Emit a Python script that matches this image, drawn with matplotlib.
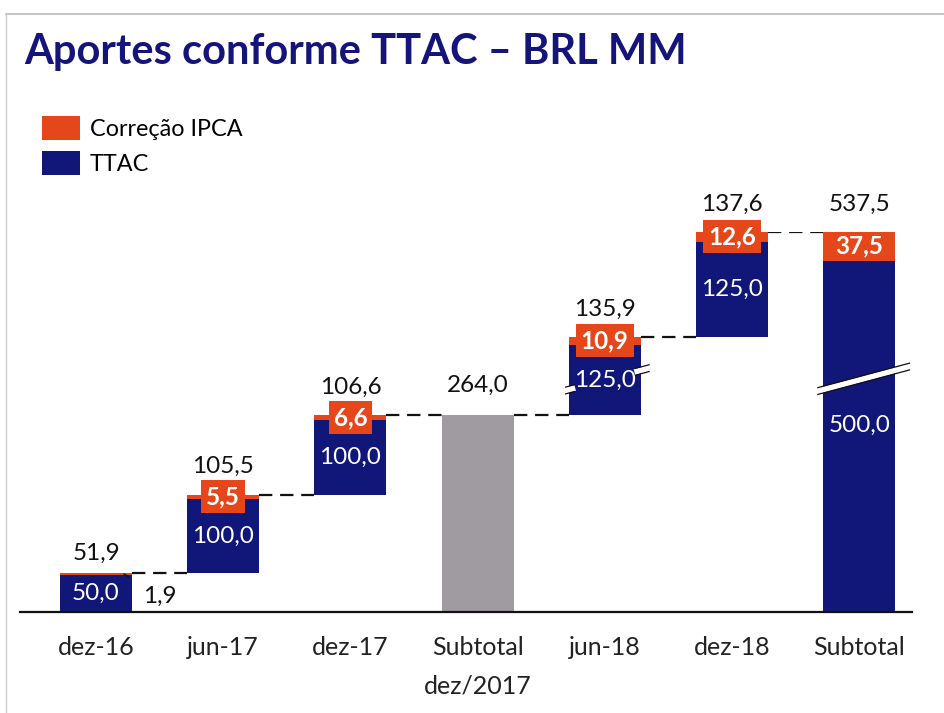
import numpy as np
import matplotlib
matplotlib.use("Agg")
import matplotlib.pyplot as plt
import matplotlib.transforms as mtransforms
from matplotlib.patches import Patch
from matplotlib.lines import Line2D

# ---------------- data ----------------
categories = ["dez-16", "jun-17", "dez-17", "Subtotal\ndez/2017", "jun-18", "dez-18", "Subtotal"]
ttac = [50.0, 100.0, 100.0, None, 125.0, 125.0, 500.0]
ipca = [1.9, 5.5, 6.6, None, 10.9, 12.6, 37.5]
subtotal_2017 = 264.0
legend_labels = ["Correção IPCA", "TTAC"]
title = "Aportes conforme TTAC – BRL MM"

# compressed (broken) value scale used by the original slide
SCALE_VALUES = [0.0, 264.0, 389.0, 537.5]
SCALE_PX = [0.0, 197.0, 267.0, 380.0]

# ---------------- style ----------------
NAVY = "#111679"
ORANGE = "#E5461A"
GRAY = "#A09BA0"
TITLE_C = "#14147A"
FONT = "Lato"
LBL = 17.5
plt.rcParams["font.family"] = [FONT, "DejaVu Sans"]

W, H = 944, 713
fig = plt.figure(figsize=(W / 100, H / 100), dpi=100)

# piecewise linear scale
kv = np.array(SCALE_VALUES, dtype=float)
kh = np.array(SCALE_PX, dtype=float)
s0 = (kh[1] - kh[0]) / (kv[1] - kv[0])
s1 = (kh[-1] - kh[-2]) / (kv[-1] - kv[-2])
kv_ext = np.concatenate([[kv[0] - 10000], kv, [kv[-1] + 10000]])
kh_ext = np.concatenate([[kh[0] - 10000 * s0], kh, [kh[-1] + 10000 * s1]])


def fwd(v):
    return np.interp(v, kv_ext, kh_ext)


def inv(h):
    return np.interp(h, kh_ext, kv_ext)


base_px = 612
ax_h = kh[-1]
ax = fig.add_axes([20 / W, (H - base_px) / H, 892 / W, ax_h / H])
ax.set_yscale("function", functions=(fwd, inv))
xl = (-(96 - 20) / 127.2, (912 - 96) / 127.2)
ax.set_xlim(*xl)
ax.set_ylim(0, SCALE_VALUES[-1])
for s in ["left", "right", "top"]:
    ax.spines[s].set_visible(False)
ax.spines["bottom"].set_linewidth(1.6)
ax.spines["bottom"].set_color("#111111")
ax.set_yticks([])
ax.set_xticks(range(len(categories)))
ax.set_xticklabels(categories, fontsize=18, color="#222222", linespacing=1.85)
ax.tick_params(axis="x", length=0, pad=17)

bw = 72 / 127.2
fmt = lambda v: f"{v:.1f}".replace(".", ",")

# compute bases
bases = []
cum = 0.0
tops = []
for i, (t, p) in enumerate(zip(ttac, ipca)):
    if categories[i].startswith("Subtotal"):
        bases.append(0.0)
        if t is None:
            tops.append(subtotal_2017)
            cum = subtotal_2017
        else:
            tops.append(t + p)
    else:
        bases.append(cum)
        cum = cum + t + p
        tops.append(cum)

for i in range(len(categories)):
    t, p, b = ttac[i], ipca[i], bases[i]
    if t is None:
        ax.bar(i, subtotal_2017, bottom=0, width=bw, color=GRAY, zorder=2)
        ax.annotate(fmt(subtotal_2017), (i, subtotal_2017), xytext=(0, 21),
                    textcoords="offset points", ha="center", va="center",
                    fontsize=LBL, color="#111111", zorder=6)
        continue
    ax.bar(i, t, bottom=b, width=bw, color=NAVY, zorder=2)
    ax.bar(i, p, bottom=b + t, width=bw, color=ORANGE, zorder=2)
    # TTAC label
    ax.annotate(fmt(t), (i, b + t / 2), ha="center", va="center",
                fontsize=LBL, color="white", zorder=6)
    top = b + t + p
    if i == 0:
        # small IPCA value outside with leader line
        ax.annotate(fmt(p), xy=(i + 0.22, top - p / 2), xytext=(26, -16),
                    textcoords="offset points", ha="center", va="center",
                    fontsize=LBL, color="#111111", zorder=6,
                    arrowprops=dict(arrowstyle="-", color="#111111", lw=1.0,
                                    shrinkA=10, shrinkB=0))
        off = 14.5
    else:
        boxed = categories[i] != "Subtotal"
        bbox = dict(boxstyle="square,pad=0.2", fc=ORANGE, ec="none") if boxed else None
        ax.annotate(fmt(p), (i, b + t + p / 2), ha="center", va="center",
                    fontsize=LBL, color="white", fontweight="bold", bbox=bbox, zorder=5)
        off = 20
    ax.annotate(fmt(t + p), (i, top), xytext=(0, off), textcoords="offset points",
                ha="center", va="center", fontsize=LBL, color="#111111", zorder=6)

# dashed connectors
for i in range(len(categories) - 1):
    lvl = tops[i]
    ax.plot([i + bw / 2, i + 1 - bw / 2], [lvl, lvl], color="#111111", lw=1.6,
            dashes=(6, 3.5), zorder=1, solid_capstyle="butt")

# break marks (drawn in x-data / pixel-height coordinates)
btr = mtransforms.blended_transform_factory(ax.transData, ax.transAxes)
hc = fwd((SCALE_VALUES[1] + SCALE_VALUES[2]) / 2)
slope = 34.0  # px per category unit


def brk(x0, x1, xc):
    xs = np.array([x0, x1])
    hs = hc + slope * (xs - xc)
    ax.plot(xs, hs / ax_h, transform=btr, color="white", lw=4.3, zorder=3,
            solid_capstyle="butt", clip_on=False)
    for d in (-3.4, 3.4):
        ax.plot(xs, (hs + d) / ax_h, transform=btr, color="#111111", lw=0.9, zorder=4,
                solid_capstyle="butt", clip_on=False)


# final subtotal: full break
brk(6 - 0.33, 6 + 0.40, 6)
# jun-18: break marks at the edges only
brk(4 - bw / 2 - 0.03, 4 - bw / 2 + 0.05, 4)
brk(4 + bw / 2 - 0.05, 4 + bw / 2 + 0.07, 4)

# legend
handles = [Patch(fc=ORANGE, ec="none"), Patch(fc=NAVY, ec="none")]
fig.legend(handles, legend_labels, loc="upper left", bbox_to_anchor=(42 / W, 1 - 116 / H),
           frameon=False, fontsize=16.8, handlelength=1.62, handleheight=1.2,
           handletextpad=0.42, labelspacing=0.47, borderpad=0, borderaxespad=0)

# title
fig.text(24 / W, 1 - 64 / H, title, fontsize=30, fontweight="bold", color=TITLE_C,
         ha="left", va="baseline")

# slide frame lines
fig.add_artist(Line2D([6 / W, 1], [1 - 14 / H, 1 - 14 / H], color="#BBBBBB", lw=1.2))
fig.add_artist(Line2D([6 / W, 6 / W], [0, 1 - 14 / H], color="#CCCCCC", lw=1.0))

fig.savefig("out.png", dpi=100, facecolor="white")
